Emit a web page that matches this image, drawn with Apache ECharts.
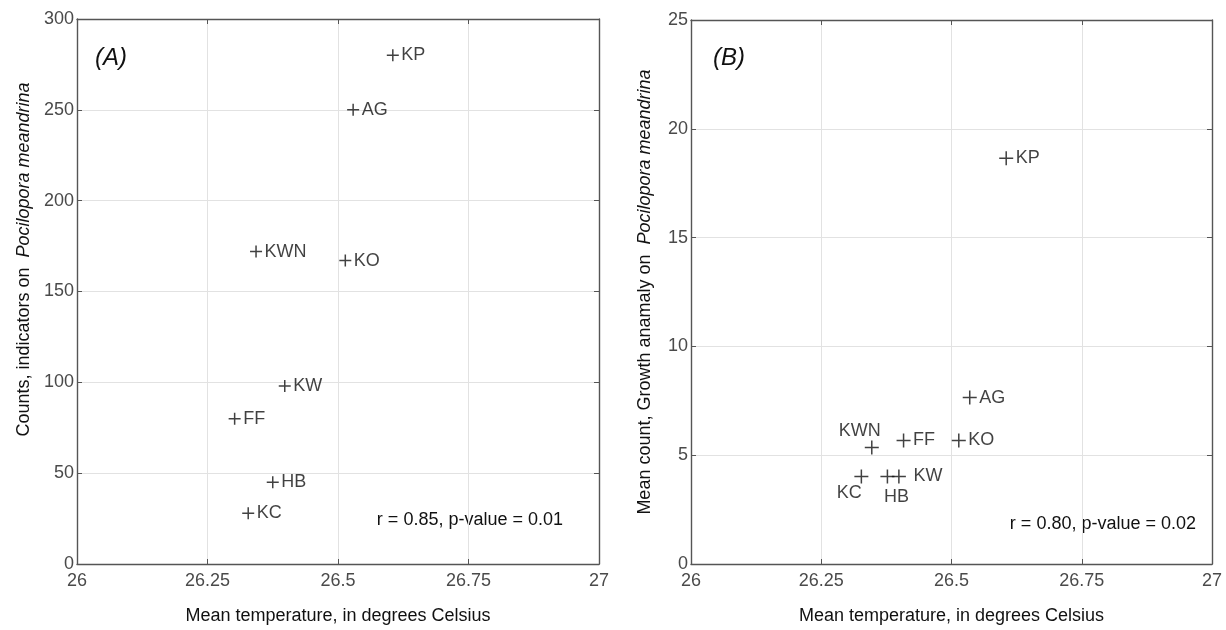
<!DOCTYPE html>
<html>
<head>
<meta charset="utf-8">
<script src="https://cdn.jsdelivr.net/npm/echarts@6/dist/echarts.min.js"></script>
<style>
html,body{margin:0;padding:0;background:#fff;}
#c{width:1226px;height:630px;}
</style>
</head>
<body>
<div id="c"></div>
<script>
// ---- data ----
const sites = ['KP', 'AG', 'KWN', 'KO', 'KW', 'FF', 'HB', 'KC'];
const tempA = [26.605, 26.529, 26.343, 26.514, 26.398, 26.302, 26.375, 26.328];
const countsA = [280, 250, 172, 167, 98, 80, 45, 28];
const tempB = [26.605, 26.535, 26.347, 26.514, 26.399, 26.408, 26.377, 26.327];
const meanB = [18.65, 7.65, 5.35, 5.68, 4.02, 5.68, 4.02, 4.02];
const xTicks = [26, 26.25, 26.5, 26.75, 27];
const yTicksA = [0, 50, 100, 150, 200, 250, 300];
const yTicksB = [0, 5, 10, 15, 20, 25];
const xTitle = 'Mean temperature, in degrees Celsius';
const yTitleA = ['Counts, indicators on  ', 'Pocilopora meandrina'];
const yTitleB = ['Mean count, Growth anamaly on  ', 'Pocilopora meandrina'];
const panelA = '(A)', panelB = '(B)';
const statA = 'r = 0.85, p-value = 0.01';
const statB = 'r = 0.80, p-value = 0.02';

// ---- styling ----
const FONT = '"Liberation Sans", Arial, Helvetica, sans-serif';
const AX = '#555555';
const TXT = '#111111';
const plus = 'path://M0,6L12,6M6,0L6,12';

function xAxis(grid, pos, main, ticks) {
  return {
    type: 'value', gridIndex: grid, position: pos,
    min: ticks[0], max: ticks[ticks.length - 1], interval: ticks[1] - ticks[0],
    name: main ? xTitle : '', nameLocation: 'middle', nameGap: 43,
    nameTextStyle: { fontFamily: FONT, fontSize: 18, color: TXT },
    axisLine: { show: true, onZero: false, lineStyle: { color: AX, width: 1.4 } },
    axisTick: { show: true, inside: true, length: 5, lineStyle: { color: AX } },
    axisLabel: { show: main, fontFamily: FONT, fontSize: 18, color: '#4a4a4a', margin: 8 },
    splitLine: { show: main, lineStyle: { color: '#e2e2e2', width: 1 } }
  };
}
function yAxis(grid, pos, main, ticks, title, gap, pad) {
  return {
    type: 'value', gridIndex: grid, position: pos,
    min: ticks[0], max: ticks[ticks.length - 1], interval: ticks[1] - ticks[0],
    name: main ? '{n|' + title[0] + '}{i|' + title[1] + '}' : '',
    nameLocation: 'middle', nameGap: gap,
    nameTextStyle: {
      padding: [0, 0, 0, pad],
      rich: {
        n: { fontFamily: FONT, fontSize: 18, color: TXT },
        i: { fontFamily: FONT, fontSize: 18, color: TXT, fontStyle: 'italic' }
      }
    },
    axisLine: { show: true, onZero: false, lineStyle: { color: AX, width: 1.4 } },
    axisTick: { show: true, inside: true, length: 5, lineStyle: { color: AX } },
    axisLabel: { show: main, fontFamily: FONT, fontSize: 18, color: '#4a4a4a', margin: 3 },
    splitLine: { show: main, lineStyle: { color: '#e2e2e2', width: 1 } }
  };
}

const labelB = {
  KWN: { position: 'inside', offset: [-12, -17] },
  KC: { position: 'inside', offset: [-12, 17] },
  HB: { position: 'inside', offset: [9, 21] },
  KW: { position: 'right', distance: 5 }
};

const baseLabel = { show: true, position: 'right', distance: 0, fontFamily: FONT, fontSize: 18, color: TXT, formatter: p => p.name };

const dataA = sites.map((s, i) => ({ name: s, value: [tempA[i], countsA[i]] }));
const dataB = sites.map((s, i) => ({ name: s, value: [tempB[i], meanB[i]], label: labelB[s] || {} }));

const option = {
  animation: false,
  backgroundColor: '#fff',
  grid: [
    { left: 77, top: 19, width: 522, height: 548 },
    { left: 691, top: 20, width: 521, height: 547 }
  ],
  xAxis: [
    xAxis(0, 'bottom', true, xTicks), xAxis(0, 'top', false, xTicks),
    xAxis(1, 'bottom', true, xTicks), xAxis(1, 'top', false, xTicks)
  ],
  yAxis: [
    yAxis(0, 'left', true, yTicksA, yTitleA, 44, 64), yAxis(0, 'right', false, yTicksA, yTitleA, 0, 0),
    yAxis(1, 'left', true, yTicksB, yTitleB, 37, 0), yAxis(1, 'right', false, yTicksB, yTitleB, 0, 0)
  ],
  series: [
    {
      type: 'scatter', xAxisIndex: 0, yAxisIndex: 0, data: dataA,
      symbol: plus, symbolSize: 12,
      itemStyle: { color: 'none', borderColor: TXT, borderWidth: 1.5 },
      label: baseLabel
    },
    {
      type: 'scatter', xAxisIndex: 2, yAxisIndex: 2, data: dataB,
      symbol: plus, symbolSize: 14,
      itemStyle: { color: 'none', borderColor: TXT, borderWidth: 1.5 },
      label: baseLabel
    }
  ],
  graphic: [
    { type: 'text', x: 95, y: 58, style: { text: panelA, font: 'italic 24px ' + FONT, fill: TXT, verticalAlign: 'middle' } },
    { type: 'text', x: 713, y: 58, style: { text: panelB, font: 'italic 24px ' + FONT, fill: TXT, verticalAlign: 'middle' } },
    { type: 'text', x: 563, y: 520, style: { text: statA, font: '18px ' + FONT, fill: TXT, align: 'right', verticalAlign: 'middle' } },
    { type: 'text', x: 1196, y: 524, style: { text: statB, font: '18px ' + FONT, fill: TXT, align: 'right', verticalAlign: 'middle' } }
  ]
};

const chart = echarts.init(document.getElementById('c'), null, { renderer: 'canvas' });
chart.setOption(option);
</script>
</body>
</html>
